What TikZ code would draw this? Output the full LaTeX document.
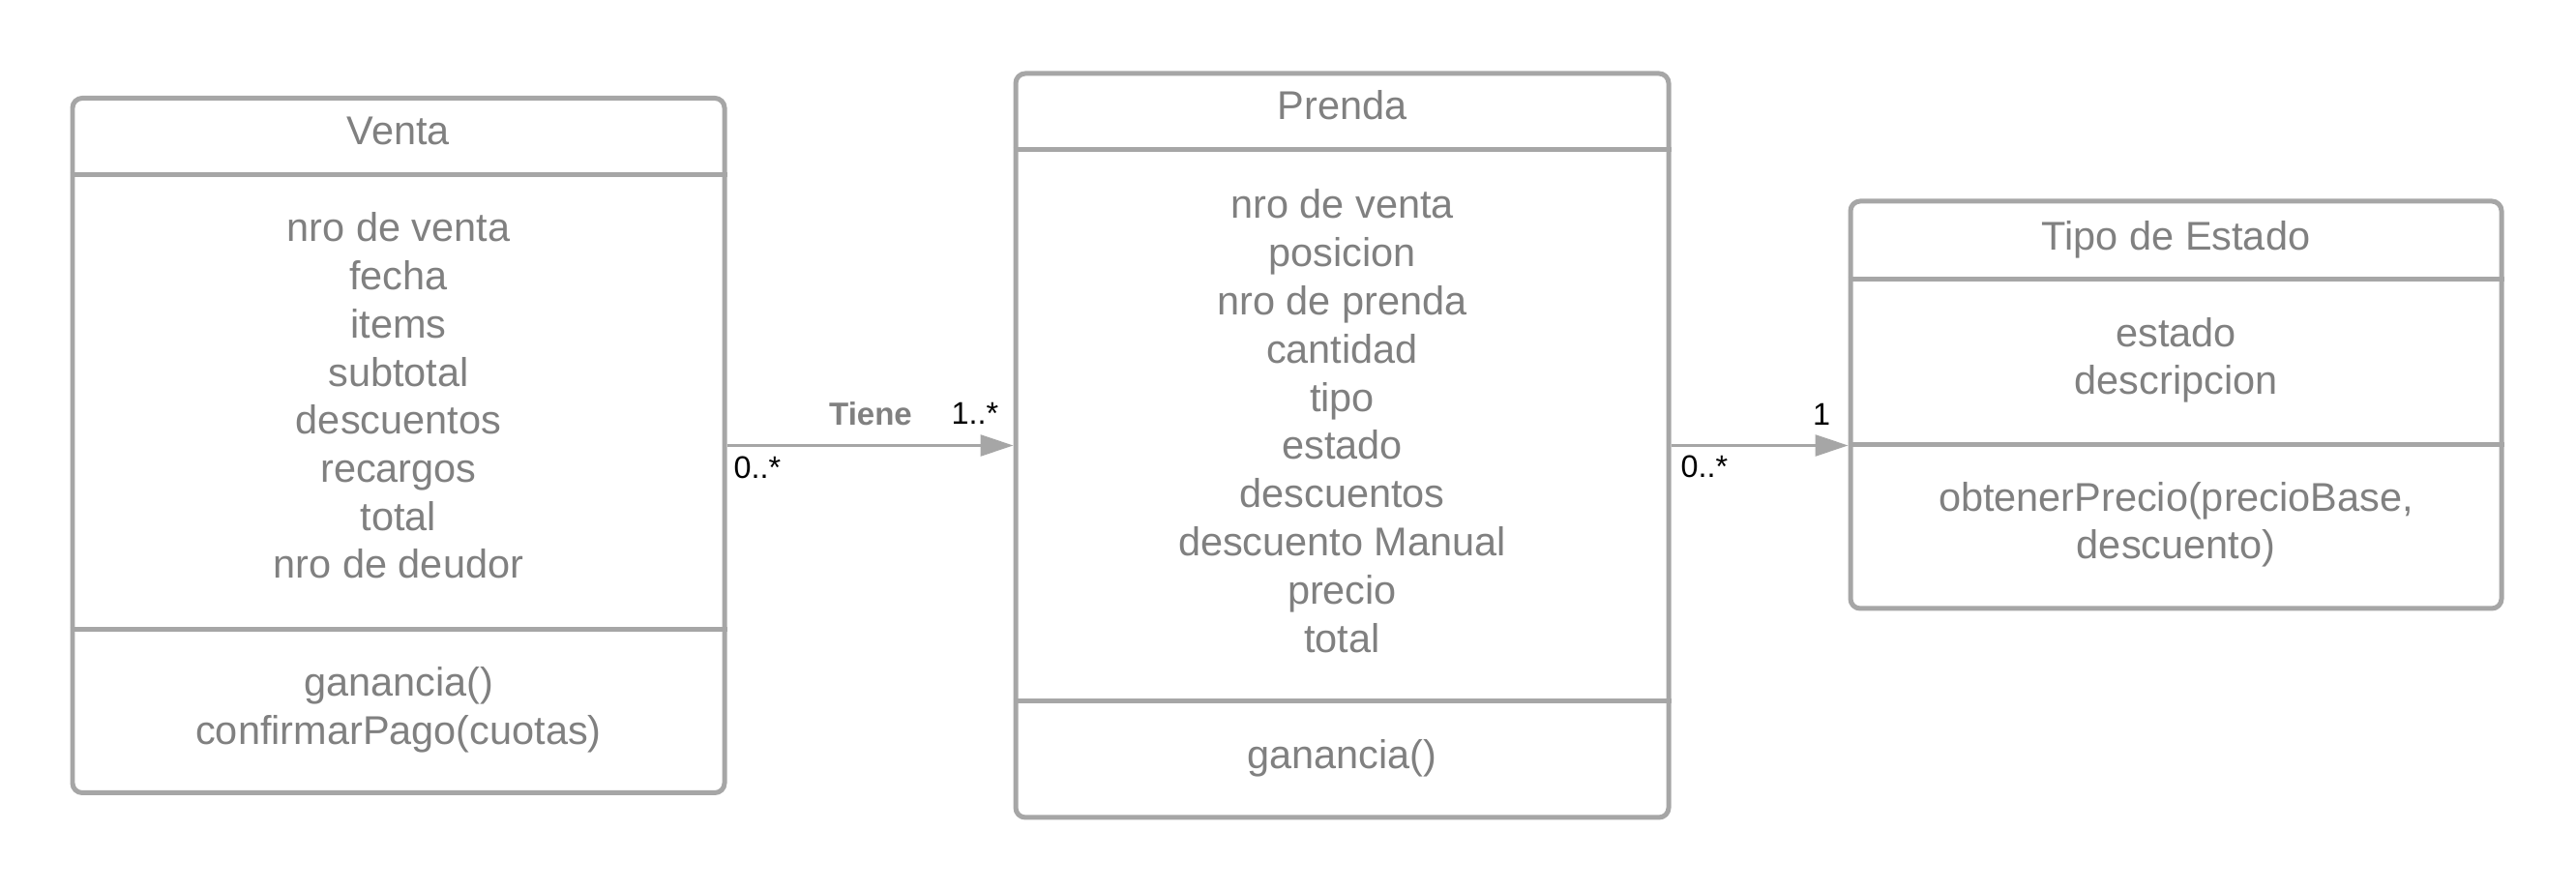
\documentclass[tikz,border=0pt]{standalone}
\usepackage{fontspec}
\setmainfont{Liberation Sans}
\usetikzlibrary{arrows.meta, positioning}
\definecolor{boxgray}{RGB}{166,166,166}
\definecolor{txtgray}{RGB}{128,128,128}

\begin{document}
\begin{tikzpicture}[
    classbox/.style={draw=boxgray, line width=1.42pt, rounded corners=0.1cm, inner sep=0pt, fill=white},
    sep/.style={draw=boxgray, line width=1.42pt},
    member/.style={anchor=base, inner sep=0pt, text=txtgray, font=\fontsize{11.8}{14}\selectfont},
    mult/.style={anchor=base, inner sep=0pt, text=black, font=\fontsize{9.2}{10}\selectfont},
    assoc/.style={draw=boxgray, line width=0.77pt, -{Triangle[length=0.34cm, width=0.22cm]}}
  ]
  \useasboundingbox (0,0) rectangle (26.63,9.21);

  % Class boxes
  \node[classbox, minimum width=6.74cm, minimum height=7.18cm] (venta) at (4.12,4.605) {};
  \node[classbox, minimum width=6.75cm, minimum height=7.69cm] (prenda) at (13.875,4.605) {};
  \node[classbox, minimum width=6.73cm, minimum height=4.21cm] (tipo) at (22.495,5.025) {};

  % Compartment lines
  \draw[sep] (venta.west |- 0,7.405) -- (venta.east |- 0,7.405);
  \draw[sep] (venta.west |- 0,2.70) -- (venta.east |- 0,2.70);
  \draw[sep] (prenda.west |- 0,7.66) -- (prenda.east |- 0,7.66);
  \draw[sep] (prenda.west |- 0,1.96) -- (prenda.east |- 0,1.96);
  \draw[sep] (tipo.west |- 0,6.325) -- (tipo.east |- 0,6.325);
  \draw[sep] (tipo.west |- 0,4.61) -- (tipo.east |- 0,4.61);

  % Venta
  \node[member] (venta-name) at (4.12,7.71) {Venta};
  \foreach \t [count=\i from 0] in {nro de venta, fecha, items, subtotal, descuentos, recargos, total, nro de deudor}
    \node[member] (venta-a\i) at (4.12,6.71-0.497*\i) {\t};
  \node[member] (venta-m0) at (4.12,2.01) {ganancia()};
  \node[member] (venta-m1) at (4.12,1.51) {confirmarPago(cuotas)};

  % Prenda
  \node[member] (prenda-name) at (13.875,7.97) {Prenda};
  \foreach \t [count=\i from 0] in {nro de venta, posicion, nro de prenda, cantidad, tipo, estado, descuentos, descuento Manual, precio, total}
    \node[member] (prenda-a\i) at (13.875,6.95-0.498*\i) {\t};
  \node[member] (prenda-m0) at (13.875,1.26) {ganancia()};

  % Tipo de Estado
  \node[member] (tipo-name) at (22.495,6.62) {Tipo de Estado};
  \node[member] (tipo-a0) at (22.495,5.62) {estado};
  \node[member] (tipo-a1) at (22.495,5.13) {descripcion};
  \node[member] (tipo-m0) at (22.495,3.92) {obtenerPrecio(precioBase,};
  \node[member] (tipo-m1) at (22.495,3.43) {descuento)};

  % Associations
  \draw[assoc] (venta.east) -- (prenda.west);
  \draw[assoc] (prenda.east) -- (prenda.east -| tipo.west);

  % Labels and multiplicities
  \node[anchor=base, inner sep=0pt, text=txtgray, font=\fontsize{9.4}{10}\selectfont\bfseries] (tiene) at (9.00,4.81) {Tiene};
  \node[mult] (m-vp-b) at (10.08,4.82) {1..*};
  \node[mult, anchor=base west] (m-vp-a) at (7.58,4.26) {0..*};
  \node[mult, anchor=base west] (m-pt-a) at (17.37,4.27) {0..*};
  \node[mult] (m-pt-b) at (18.83,4.81) {1};

\end{tikzpicture}
\end{document}
